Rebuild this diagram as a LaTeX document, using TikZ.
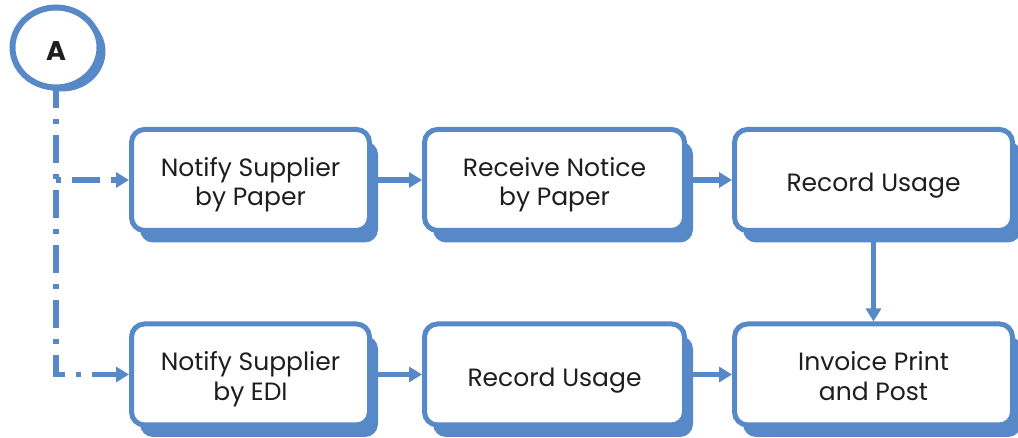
\documentclass[tikz,border=0pt]{standalone}
\usepackage{fontspec}
\setmainfont{Poppins}
\usetikzlibrary{arrows.meta,shadows,shapes.geometric}
\definecolor{flowblue}{RGB}{87,137,201}
\definecolor{flowtext}{RGB}{30,30,30}

\begin{document}
\begin{tikzpicture}[x=1pt, y=1pt,
    box/.style={rectangle, rounded corners=13pt, draw=flowblue, line width=5pt, fill=white,
        minimum height=101pt, align=center, text=flowtext, font=\fontsize{25}{29.5}\selectfont,
        text height=24pt, text depth=0pt,
        drop shadow={shadow xshift=8.5pt, shadow yshift=-12pt, fill=flowblue, opacity=1}},
    twoline/.style={text height=52pt},
    conn/.style={draw=flowblue, line width=5.5pt, -{Triangle[length=13pt, width=15pt]}},
    link/.style={conn, dash pattern=on 28pt off 11pt on 5pt off 11pt}]
    \useasboundingbox (0,0) rectangle (1018,438);

    % Connettore
    \node (A) at (56,390.5) [ellipse, draw=flowblue, line width=6pt, fill=white,
        minimum width=87pt, minimum height=80pt, text=flowtext,
        font=\fontsize{27}{30}\selectfont\bfseries, text height=27pt, text depth=0pt,
        drop shadow={shadow xshift=6pt, shadow yshift=-4pt, fill=flowblue, opacity=1}] {A};

    % Riga superiore
    \node (B1) at (250.5,258) [box, twoline, minimum width=238pt] {Notify Supplier\\by Paper};
    \node (B2) at (554.5,258) [box, twoline, minimum width=260pt] {Receive Notice\\by Paper};
    \node (B3) at (873.5,258) [box, minimum width=278pt] {Record Usage};

    % Riga inferiore
    \node (C1) at (250.5,63.5) [box, twoline, minimum width=238pt] {Notify Supplier\\by EDI};
    \node (C2) at (554.5,63.5) [box, minimum width=260pt] {Record Usage};
    \node (C3) at (873.5,63.5) [box, twoline, minimum width=278pt] {Invoice Print\\and Post};

    % Diramazioni
    \coordinate (J1) at (A.south |- B1.west);
    \coordinate (J2) at (A.south |- C1.west);
    \draw[link, dash phase=10pt] (A.south) -- (J2) -- (C1.west);
    \draw[link, dash phase=39pt] (J1) -- (B1.west);

    % Collegamenti
    \draw[conn] (B1) -- (B2);
    \draw[conn] (B2) -- (B3);
    \draw[conn] (B3) -- (C3);
    \draw[conn] (C1) -- (C2);
    \draw[conn] (C2) -- (C3);
\end{tikzpicture}
\end{document}
